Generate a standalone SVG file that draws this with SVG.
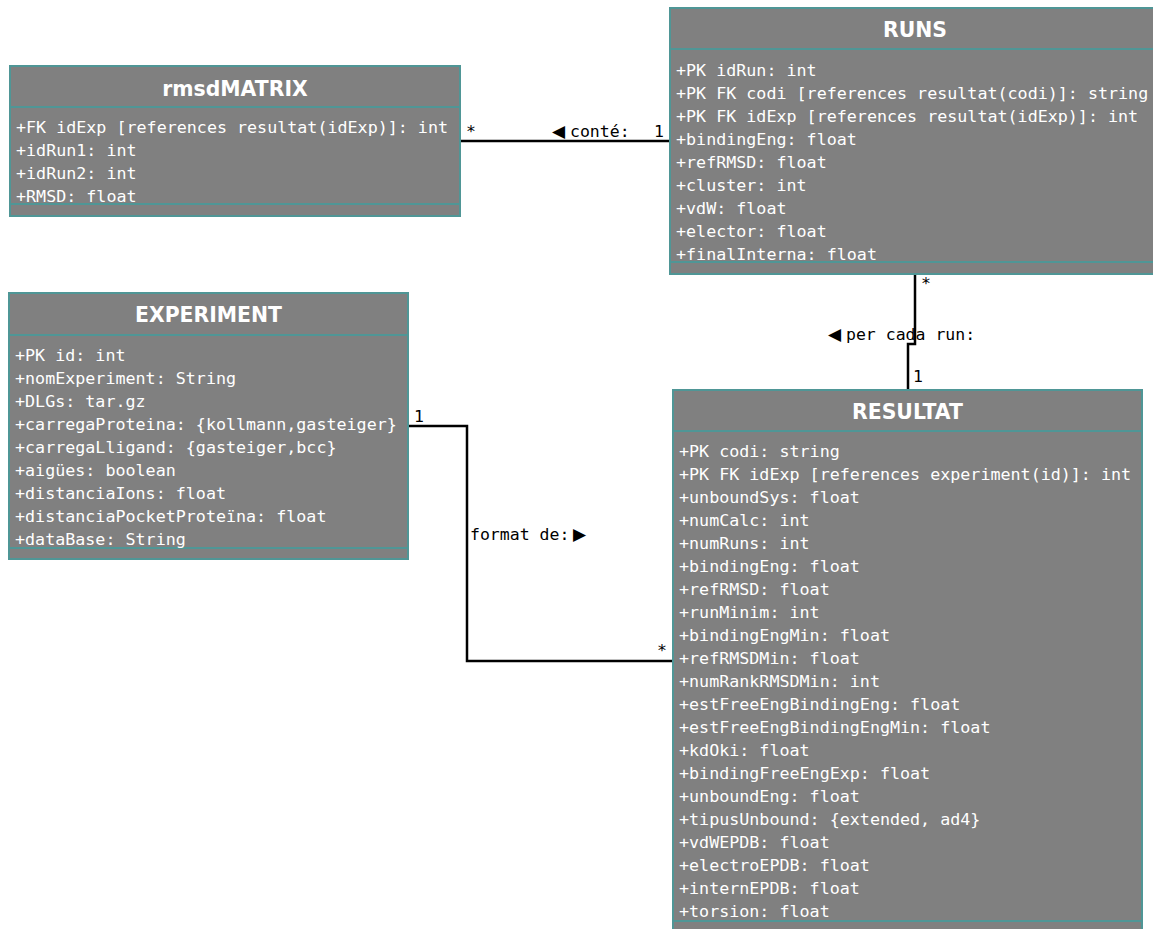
<svg xmlns="http://www.w3.org/2000/svg" width="1153" height="929" viewBox="0 0 1153 929">
<style>
.box{fill:#808080;stroke:#4f9696;stroke-width:2}
.sep{stroke:#4f9696;stroke-width:2}
.title{font-family:"DejaVu Sans",sans-serif;font-weight:bold;font-size:20.4px;fill:#fff;text-anchor:middle}
.attr{font-family:"DejaVu Sans Mono",monospace;font-size:16.7px;fill:#fff}
.lbl{font-family:"DejaVu Sans Mono",monospace;font-size:16.5px;fill:#000}
.tri{font-family:"DejaVu Sans",sans-serif;font-size:17px}
.conn{fill:none;stroke:#000;stroke-width:2.5}
</style>
<rect width="1153" height="929" fill="#fff"/>
<g id="connectors">
<path class="conn" d="M460,141 H670"/>
<path class="conn" d="M915,274 V344 H908 V390"/>
<path class="conn" d="M408,426 H467 V661 H673"/>
<text class="lbl" x="466" y="137">*</text>
<text class="lbl" y="137"><tspan class="tri" x="552">◀</tspan><tspan x="570">conté:</tspan></text>
<text class="lbl" x="654" y="137">1</text>
<text class="lbl" x="921" y="289">*</text>
<text class="lbl" y="340"><tspan class="tri" x="828">◀</tspan><tspan x="846">per cada run:</tspan></text>
<text class="lbl" x="913" y="382">1</text>
<text class="lbl" x="414" y="422">1</text>
<text class="lbl" y="540"><tspan x="470">format de:</tspan><tspan class="tri" x="573">▶</tspan></text>
<text class="lbl" x="657" y="656">*</text>
</g>
<g id="rmsdMATRIX">
<rect class="box" x="10" y="66" width="450" height="150"/>
<line class="sep" x1="10" y1="107" x2="460" y2="107"/>
<line class="sep" x1="10" y1="204" x2="460" y2="204"/>
<text class="title" x="235" y="96">rmsdMATRIX</text>
<text class="attr" x="16" y="133">+FK idExp [references resultat(idExp)]: int</text>
<text class="attr" x="16" y="156">+idRun1: int</text>
<text class="attr" x="16" y="179">+idRun2: int</text>
<text class="attr" x="16" y="202">+RMSD: float</text>
</g>
<g id="RUNS">
<rect class="box" x="670" y="8" width="492" height="266"/>
<line class="sep" x1="670" y1="49" x2="1162" y2="49"/>
<line class="sep" x1="670" y1="262" x2="1162" y2="262"/>
<text class="title" x="915" y="37">RUNS</text>
<text class="attr" x="676" y="76">+PK idRun: int</text>
<text class="attr" x="676" y="99">+PK FK codi [references resultat(codi)]: string</text>
<text class="attr" x="676" y="122">+PK FK idExp [references resultat(idExp)]: int</text>
<text class="attr" x="676" y="145">+bindingEng: float</text>
<text class="attr" x="676" y="168">+refRMSD: float</text>
<text class="attr" x="676" y="191">+cluster: int</text>
<text class="attr" x="676" y="214">+vdW: float</text>
<text class="attr" x="676" y="237">+elector: float</text>
<text class="attr" x="676" y="260">+finalInterna: float</text>
</g>
<g id="EXPERIMENT">
<rect class="box" x="9" y="293" width="399" height="266"/>
<line class="sep" x1="9" y1="335" x2="408" y2="335"/>
<line class="sep" x1="9" y1="548" x2="408" y2="548"/>
<text class="title" x="208.5" y="322">EXPERIMENT</text>
<text class="attr" x="15" y="361">+PK id: int</text>
<text class="attr" x="15" y="384">+nomExperiment: String</text>
<text class="attr" x="15" y="407">+DLGs: tar.gz</text>
<text class="attr" x="15" y="430">+carregaProteina: {kollmann,gasteiger}</text>
<text class="attr" x="15" y="453">+carregaLligand: {gasteiger,bcc}</text>
<text class="attr" x="15" y="476">+aigües: boolean</text>
<text class="attr" x="15" y="499">+distanciaIons: float</text>
<text class="attr" x="15" y="522">+distanciaPocketProteïna: float</text>
<text class="attr" x="15" y="545">+dataBase: String</text>
</g>
<g id="RESULTAT">
<rect class="box" x="673" y="390" width="469" height="545"/>
<line class="sep" x1="673" y1="431" x2="1142" y2="431"/>
<line class="sep" x1="673" y1="921" x2="1142" y2="921"/>
<text class="title" x="907.5" y="419">RESULTAT</text>
<text class="attr" x="679" y="457">+PK codi: string</text>
<text class="attr" x="679" y="480">+PK FK idExp [references experiment(id)]: int</text>
<text class="attr" x="679" y="503">+unboundSys: float</text>
<text class="attr" x="679" y="526">+numCalc: int</text>
<text class="attr" x="679" y="549">+numRuns: int</text>
<text class="attr" x="679" y="572">+bindingEng: float</text>
<text class="attr" x="679" y="595">+refRMSD: float</text>
<text class="attr" x="679" y="618">+runMinim: int</text>
<text class="attr" x="679" y="641">+bindingEngMin: float</text>
<text class="attr" x="679" y="664">+refRMSDMin: float</text>
<text class="attr" x="679" y="687">+numRankRMSDMin: int</text>
<text class="attr" x="679" y="710">+estFreeEngBindingEng: float</text>
<text class="attr" x="679" y="733">+estFreeEngBindingEngMin: float</text>
<text class="attr" x="679" y="756">+kdOki: float</text>
<text class="attr" x="679" y="779">+bindingFreeEngExp: float</text>
<text class="attr" x="679" y="802">+unboundEng: float</text>
<text class="attr" x="679" y="825">+tipusUnbound: {extended, ad4}</text>
<text class="attr" x="679" y="848">+vdWEPDB: float</text>
<text class="attr" x="679" y="871">+electroEPDB: float</text>
<text class="attr" x="679" y="894">+internEPDB: float</text>
<text class="attr" x="679" y="917">+torsion: float</text>
</g>
</svg>
